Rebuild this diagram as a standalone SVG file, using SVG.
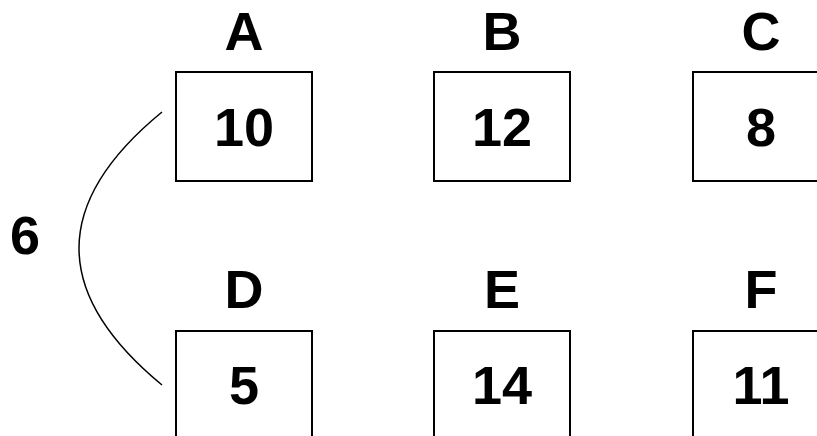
<svg xmlns="http://www.w3.org/2000/svg" width="817" height="436" viewBox="0 0 817 436">
<style>
.box{fill:#fff;stroke:#000;stroke-width:2}
.t{font-family:"Liberation Sans",Arial,sans-serif;font-weight:bold;font-size:54px;text-anchor:middle;fill:#000}
.c{fill:none;stroke:#000;stroke-width:1.5}
</style>
<rect width="817" height="436" fill="#fff"/>
<g id="connectors">
<path class="c" d="M162,112 Q-4,248 162,385"/>
<text class="t" x="25" y="254">6</text>
</g>
<g id="A"><text class="t" x="244" y="50">A</text><rect class="box" x="176" y="72" width="136" height="109"/><text class="t" x="244" y="146">10</text></g>
<g id="B"><text class="t" x="502" y="50">B</text><rect class="box" x="434" y="72" width="136" height="109"/><text class="t" x="502" y="146">12</text></g>
<g id="C"><text class="t" x="761" y="50">C</text><rect class="box" x="693" y="72" width="136" height="109"/><text class="t" x="761" y="146">8</text></g>
<g id="D"><text class="t" x="244" y="308">D</text><rect class="box" x="176" y="331" width="136" height="109"/><text class="t" x="244" y="404">5</text></g>
<g id="E"><text class="t" x="502" y="308">E</text><rect class="box" x="434" y="331" width="136" height="109"/><text class="t" x="502" y="404">14</text></g>
<g id="F"><text class="t" x="761" y="308">F</text><rect class="box" x="693" y="331" width="136" height="109"/><text class="t" x="761" y="404">11</text></g>
</svg>
